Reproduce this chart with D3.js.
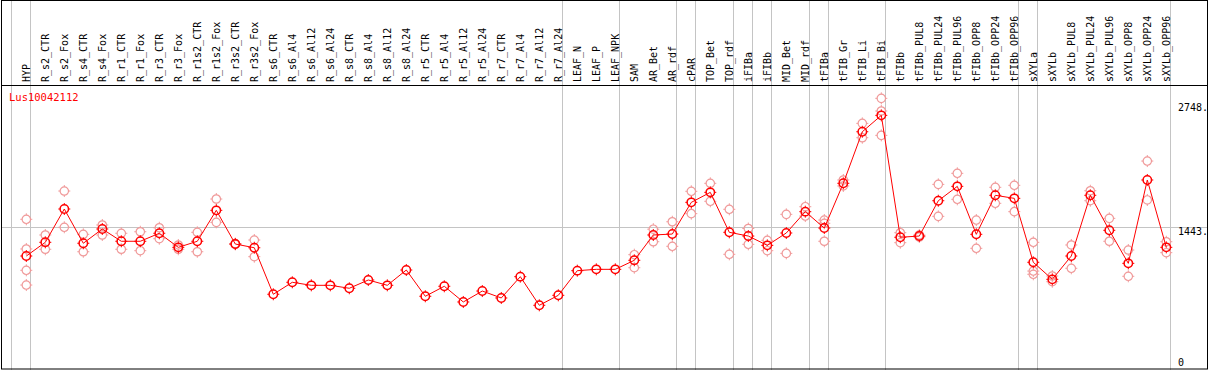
<!DOCTYPE html>
<html><head><meta charset="utf-8">
<script src="https://cdn.jsdelivr.net/npm/d3@7"></script>
<style>html,body{margin:0;padding:0;background:#fff;}svg{display:block;}</style>
</head><body>
<svg id="c" width="1209" height="370"></svg>
<script>
const title = "Lus10042112";
const categories = ["HYP","R_s2_CTR","R_s2_Fox","R_s4_CTR","R_s4_Fox","R_r1_CTR","R_r1_Fox","R_r3_CTR","R_r3_Fox","R_r1s2_CTR","R_r1s2_Fox","R_r3s2_CTR","R_r3s2_Fox","R_s6_CTR","R_s6_Al4","R_s6_Al12","R_s6_Al24","R_s8_CTR","R_s8_Al4","R_s8_Al12","R_s8_Al24","R_r5_CTR","R_r5_Al4","R_r5_Al12","R_r5_Al24","R_r7_CTR","R_r7_Al4","R_r7_Al12","R_r7_Al24","LEAF_N","LEAF_P","LEAF_NPK","SAM","AR_Bet","AR_rdf","cPAR","TOP_Bet","TOP_rdf","iFIBa","iFIBb","MID_Bet","MID_rdf","tFIBa","tFIB_Gr","tFIB_Li","tFIB_Bi","tFIBb","tFIBb_PUL8","tFIBb_PUL24","tFIBb_PUL96","tFIBb_OPP8","tFIBb_OPP24","tFIBb_OPP96","sXYLa","sXYLb","sXYLb_PUL8","sXYLb_PUL24","sXYLb_PUL96","sXYLb_OPP8","sXYLb_OPP24","sXYLb_OPP96"];
const meanValues = [1140,1284,1634,1274,1424,1295,1295,1379,1231,1295,1620,1266,1227,738,864,832,832,801,888,832,993,717,822,657,772,699,923,622,727,986,1000,1000,1095,1361,1371,1704,1809,1389,1350,1252,1382,1606,1434,1904,2446,2618,1337,1350,1721,1872,1368,1778,1746,1074,895,1140,1778,1410,1063,1939,1231];
const replicateValues = [
 [1526,1214,990,835],[1361,1211],[1823,1442],[1368,1185],[1466,1361],[1379,1211],[1395,1196],[1437,1322],[1256,1211],[1389,1185],[1739,1494],[1262,1270],[1308,1133],
 [],[],[],[],[],[],[],[],[],[],[],[],[],[],[],[],[],[],[],
 [1154,1017],[1422,1290],[1500,1242],[1820,1585],[1904,1715],[1631,1158],[1429,1263],[1305,1196],[1578,1168],[1658,1560],[1518,1484,1295],[1939,1876],[2534,2383],[2797,2664,2408],
 [1385,1280],[1361,1340],[1893,1557],[2009,1736],[1518,1221],[1862,1694],[1883,1606],
 [1284,982,948],[930,870],[1256,1011],[1826,1721],[1536,1295],[1203,927],[2138,1729],[1290,1175]
];
const groupEnds = [-1,0,28,31,34,35,37,38,39,41,42,45,52,53,60];
const yTicks = [0,1443,2748];
const yTickLabels = ["0","1443.","2748."];
const gridValues = [1443];

const svg = d3.select("#c");
const W = 1209, H = 370;
const x = d3.scalePoint().domain(categories).range([26.3, 1166.3]);
const step = x.step();
const y = d3.scaleLinear().domain([0, 2748]).range([364.5, 103]);
const font = "'DejaVu Sans Mono', monospace";

// vertical group lines
svg.append("g").selectAll("line").data(groupEnds).join("line")
  .attr("x1", d => (d < 0 ? x(categories[0]) - step : x(categories[d])) + 4.3)
  .attr("x2", d => (d < 0 ? x(categories[0]) - step : x(categories[d])) + 4.3)
  .attr("y1", 0).attr("y2", H)
  .attr("stroke", "#c4c4c4").attr("stroke-width", 1).attr("shape-rendering", "crispEdges");

// horizontal grid
svg.append("g").selectAll("line").data(gridValues).join("line")
  .attr("x1", 1).attr("x2", 1208)
  .attr("y1", d => Math.round(y(d)) + 0.5).attr("y2", d => Math.round(y(d)) + 0.5)
  .attr("stroke", "#c4c4c4").attr("stroke-width", 1);

// frame
svg.append("rect").attr("x", 1.5).attr("y", 0.5).attr("width", 1206).attr("height", 368.5)
  .attr("fill", "none").attr("stroke", "#000").attr("stroke-width", 1);
svg.append("line").attr("x1", 1).attr("x2", 1208).attr("y1", 85.5).attr("y2", 85.5)
  .attr("stroke", "#000").attr("stroke-width", 1);

// header labels
svg.append("g").selectAll("text").data(categories).join("text")
  .attr("transform", d => `translate(${x(d) + 4},82) rotate(-90)`)
  .attr("font-family", font).attr("font-size", 10).attr("fill", "#000")
  .text(d => d);

// title
svg.append("text").attr("x", 9).attr("y", 101).attr("font-family", font).attr("font-size", 10.5)
  .attr("fill", "#ff0000").text(title);

// y labels
svg.append("g").selectAll("text").data(yTicks).join("text")
  .attr("x", 1178).attr("y", d => Math.min(y(d) + 8, 366))
  .attr("font-family", font).attr("font-size", 10).attr("fill", "#000")
  .text((d, i) => yTickLabels[i]);

function marker(g, color, sw) {
  g.append("circle").attr("r", 4.2).attr("fill", "none").attr("stroke", color).attr("stroke-width", sw);
  g.append("path").attr("d", "M0,-6V-4M0,4V6M-6,0H-4M4,0H6").attr("stroke", color).attr("stroke-width", 1);
}

// replicates
const reps = [];
replicateValues.forEach((arr, i) => arr.forEach(v => reps.push({c: categories[i], v})));
svg.append("g").selectAll("g").data(reps).join("g")
  .attr("transform", d => `translate(${x(d.c)},${y(d.v)})`)
  .each(function() { marker(d3.select(this), "#f09a9a", 1.2); });

// line
const pts = categories.map((c, i) => ({c, v: meanValues[i]}));
svg.append("path").datum(pts)
  .attr("d", d3.line().x(d => x(d.c)).y(d => y(d.v)))
  .attr("fill", "none").attr("stroke", "#ff0000").attr("stroke-width", 1);

// main markers
svg.append("g").selectAll("g").data(pts).join("g")
  .attr("transform", d => `translate(${x(d.c)},${y(d.v)})`)
  .each(function() { marker(d3.select(this), "#ff0000", 1.5); });
</script>
</body></html>
